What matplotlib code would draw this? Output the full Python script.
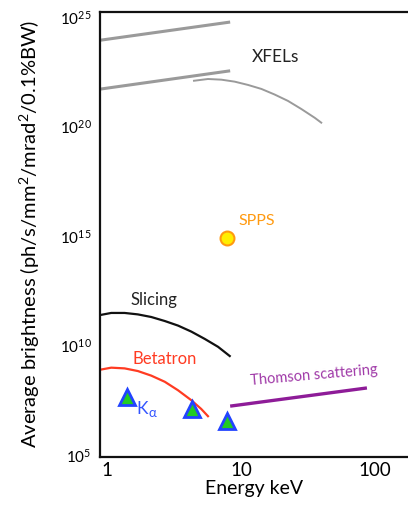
import numpy as np
import matplotlib
matplotlib.use("Agg")
import matplotlib.pyplot as plt

plt.rcParams['font.family'] = ['Lato', 'DejaVu Sans']
plt.rcParams['mathtext.fontset'] = 'custom'
plt.rcParams['mathtext.rm'] = 'Lato'
plt.rcParams['mathtext.it'] = 'Lato:italic'

# XFEL: two straight bands and one rolled-off curve (keV, brightness)
xfel_hi_e = [0.887, 8.3]
xfel_hi_b = [8.7e23, 5.9e24]
xfel_lo_e = [0.887, 8.3]
xfel_lo_b = [5.1e21, 3.5e22]
xfel_curve_e = [4.46, 5.67, 7.13, 8.97, 11.3, 14.2, 17.8, 22.4, 28.2, 35.5, 39.7]
xfel_curve_b = [1.23e22, 1.48e22, 1.38e22, 1.12e22, 7.9e21, 5.2e21, 2.9e21,
                1.48e21, 6.3e20, 2.5e20, 1.5e20]

# SPPS single point
spps_e = [7.9]
spps_b = [8.1e14]

# slicing source
slicing_e = [0.887, 1.076, 1.355, 1.70, 2.14, 2.70, 3.39, 4.26, 5.36, 6.74, 8.24]
slicing_b = [2.45e11, 3.06e11, 3.06e11, 2.63e11, 2.0e11, 1.31e11, 8.1e10,
             4.3e10, 2.0e10, 8.7e9, 3.3e9]

# betatron
betatron_e = [0.887, 1.076, 1.355, 1.70, 2.14, 2.70, 3.39, 4.26, 5.05, 5.67]
betatron_b = [7.8e8, 9.7e8, 9.0e8, 6.8e8, 4.2e8, 2.2e8, 9.0e7, 3.16e7, 1.26e7, 5.9e6]

# K-alpha sources
kalpha_e = [1.4, 4.3, 7.8]
kalpha_b = [4.5e7, 1.3e7, 3.5e6]

# Thomson scattering
thomson_e = [8.3, 87.0]
thomson_b = [1.7e7, 1.15e8]

yticks = [1e5, 1e10, 1e15, 1e20, 1e25]
ytick_labels = [r'$\mathregular{10^{5}}$', r'$\mathregular{10^{10}}$',
                r'$\mathregular{10^{15}}$', r'$\mathregular{10^{20}}$',
                r'$\mathregular{10^{25}}$']
xticks = [1, 10, 100]
xtick_labels = ['1', '10', '100']

fig = plt.figure(figsize=(4.08, 5.07), dpi=100)
ax = fig.add_axes([100 / 408, 1 - 456.5 / 507, 1 - 100 / 408, (456.5 - 12) / 507])

gray = '#9a9a9a'
ax.plot(xfel_hi_e, xfel_hi_b, color=gray, lw=2.2, solid_capstyle='butt')
ax.plot(xfel_lo_e, xfel_lo_b, color=gray, lw=2.2, solid_capstyle='butt')
ax.plot(xfel_curve_e, xfel_curve_b, color=gray, lw=1.4)
ax.text(18.2, 1.5e23, 'XFELs', fontsize=12.5, ha='center', va='center', color='#222222')

ax.plot(spps_e, spps_b, 'o', ms=10, mfc='#ffee00', mec='#ff9a10', mew=1.5)
ax.text(9.5, 4.8e15, 'SPPS', fontsize=11.5, ha='left', va='center', color='#ff9a10')

ax.plot(slicing_e, slicing_b, color='#111111', lw=1.6)
ax.text(2.26, 1.17e12, 'Slicing', fontsize=12, ha='center', va='center', color='#222222')

ax.plot(betatron_e, betatron_b, color='#ff3b22', lw=1.6)
ax.text(2.71, 2.45e9, 'Betatron', fontsize=12, ha='center', va='center', color='#ff3b22')

ax.plot(thomson_e, thomson_b, color='#8e1c98', lw=2.4, solid_capstyle='butt')
ax.text(35, 4.4e8, 'Thomson scattering', fontsize=10.5, ha='center', va='center',
        rotation=5, color='#a03aa8')

ax.plot(kalpha_e, kalpha_b, '^', ms=12, mfc='#22cc22', mec='#2244ff', mew=2, ls='none')
ax.text(1.66, 1.3e7, 'K', fontsize=12.5, ha='left', va='center', color='#3355ff')
ax.text(2.03, 8.5e6, 'α', fontsize=9.5, ha='left', va='center', color='#3355ff',
        family=['Lato', 'DejaVu Sans'])

ax.set_xscale('log')
ax.set_yscale('log')
ax.set_xlim(10 ** -0.052, 10 ** 2.246)
ax.set_ylim(10 ** 4.93, 10 ** 25.23)
ax.set_yticks(yticks)
ax.set_yticklabels(ytick_labels, fontsize=11)
ax.set_xticks(xticks)
ax.set_xticklabels(xtick_labels, fontsize=13.5)
ax.minorticks_off()
ax.tick_params(length=0, pad=6)
ax.tick_params(axis='x', pad=4)

for s in ['left', 'top', 'bottom']:
    ax.spines[s].set_linewidth(1.6)
    ax.spines[s].set_color('#111111')
ax.spines['right'].set_visible(False)

ax.set_xlabel('Energy keV', fontsize=14, labelpad=1)
ax.set_ylabel('Average brightness (ph/s/mm$^2$/mrad$^2$/0.1%BW)', fontsize=14.5, labelpad=13)

fig.savefig('out.png', dpi=100)
